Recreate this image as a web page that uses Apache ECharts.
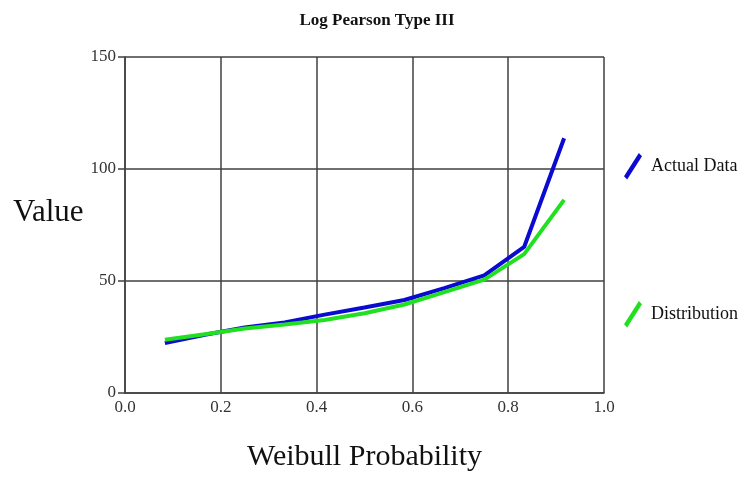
<!DOCTYPE html>
<html>
<head>
<meta charset="utf-8">
<script src="https://cdn.jsdelivr.net/npm/echarts@6/dist/echarts.min.js"></script>
<style>html,body{margin:0;padding:0;background:#fff}#c{width:752px;height:477px}</style>
</head>
<body>
<div id="c"></div>
<script>
var weibullProb = [0.0833, 0.1667, 0.25, 0.3333, 0.4167, 0.5, 0.5833, 0.6667, 0.75, 0.8333, 0.9167];
var actualData = [22.3, 26.0, 29.2, 31.5, 35.0, 38.2, 41.5, 46.8, 52.5, 65.2, 113.7];
var distribution = [23.8, 26.2, 28.8, 30.6, 32.6, 35.6, 39.5, 45.0, 50.6, 62.0, 86.2];
var xTicks = [0, 0.2, 0.4, 0.6, 0.8, 1.0];
var yTicks = [0, 50, 100, 150];

function pairs(xs, ys) { return xs.map(function (x, i) { return [x, ys[i]]; }); }

var serif = '"Liberation Serif", "DejaVu Serif", serif';
var gridColor = '#404040';
var slash = 'path://M0,22 L14,0 L17,3 L3,25 Z';

var chart = echarts.init(document.getElementById('c'), null, { renderer: 'canvas' });
chart.setOption({
  animation: false,
  backgroundColor: '#ffffff',
  title: {
    text: 'Log Pearson Type III',
    left: 372, top: 7, textAlign: 'center',
    textStyle: { fontFamily: serif, fontSize: 17, fontWeight: 'bold', color: '#111' }
  },
  grid: { left: 125, right: 148, top: 57, bottom: 81, containLabel: false },
  legend: [
    {
      data: ['Actual Data'], left: 619, top: 148, orient: 'vertical',
      icon: slash, itemWidth: 18, itemHeight: 27, itemGap: 0,
      textStyle: { fontFamily: serif, fontSize: 18, color: '#111', padding: [0, 0, 0, 4] }
    },
    {
      data: ['Distribution'], left: 619, top: 296, orient: 'vertical',
      icon: slash, itemWidth: 18, itemHeight: 27, itemGap: 0,
      textStyle: { fontFamily: serif, fontSize: 18, color: '#111', padding: [0, 0, 0, 4] }
    }
  ],
  xAxis: {
    type: 'value', min: xTicks[0], max: xTicks[xTicks.length - 1], interval: 0.2,
    name: 'Weibull Probability', nameLocation: 'middle', nameGap: 49,
    nameTextStyle: { fontFamily: serif, fontSize: 30, color: '#111' },
    axisLine: { show: true, lineStyle: { color: gridColor, width: 1.5 } },
    axisTick: { show: false },
    axisLabel: {
      fontFamily: serif, fontSize: 17, color: '#333', margin: 6,
      formatter: function (v) { return v.toFixed(1); }
    },
    splitLine: { show: true, lineStyle: { color: gridColor, width: 1.5 } }
  },
  yAxis: {
    type: 'value', min: yTicks[0], max: yTicks[yTicks.length - 1], interval: 50,
    axisLine: { show: true, lineStyle: { color: gridColor, width: 1.5 } },
    axisTick: { show: true, inside: false, length: 7, lineStyle: { color: gridColor, width: 1.5 } },
    axisLabel: { fontFamily: serif, fontSize: 17, color: '#333', margin: 9 },
    splitLine: { show: true, lineStyle: { color: gridColor, width: 1.5 } }
  },
  graphic: [
    {
      type: 'text', left: 13, top: 197,
      style: { text: 'Value', fontFamily: serif, fontSize: 31, fill: '#111' }
    }
  ],
  series: [
    {
      name: 'Actual Data', type: 'line', data: pairs(weibullProb, actualData),
      showSymbol: false, symbol: 'none', color: '#0a0ad0',
      lineStyle: { width: 4, color: '#0a0ad0' }
    },
    {
      name: 'Distribution', type: 'line', data: pairs(weibullProb, distribution),
      showSymbol: false, symbol: 'none', color: '#20e020',
      lineStyle: { width: 4, color: '#20e020' }
    }
  ]
});
</script>
</body>
</html>
